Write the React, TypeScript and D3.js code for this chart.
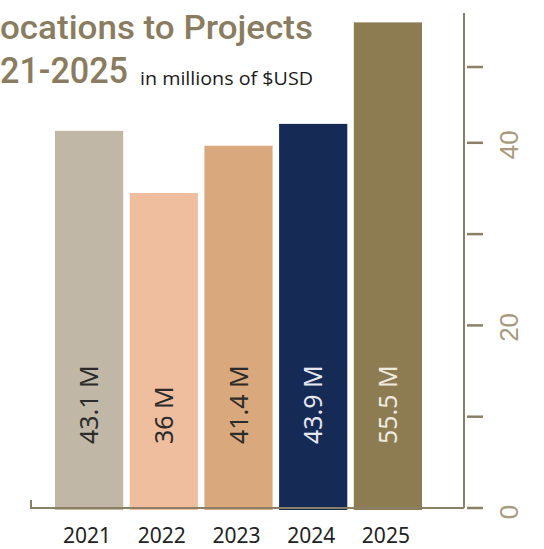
import React from "react";
import * as d3 from "d3";

const years = ["2021", "2022", "2023", "2024", "2025"];
const values = [43.1, 36, 41.4, 43.9, 55.5];
const valueLabels = ["43.1 M", "36 M", "41.4 M", "43.9 M", "55.5 M"];
const barColors = ["#c1b7a7", "#efbe9e", "#d9a97d", "#152a55", "#8d7b52"];
const labelColors = ["#2b2b2b", "#2b2b2b", "#2b2b2b", "#e6e8f0", "#efeae0"];
const axisTickValues = [0, 10, 20, 30, 40, 48.3];
const axisLabelValues = [0, 20, 40];

const W = 544;
const H = 549;
const baseY = 508;
const axisX = 464;
const axisColor = "#8b7f66";
const titleFont = "Roboto, 'Noto Sans', sans-serif";

export default function App() {
  const x = d3.scaleBand<string>().domain(years).range([55, 422]).paddingInner(0.087).paddingOuter(0);
  const yBar = d3.scaleLinear().domain([0, 58]).range([baseY, baseY - 58 * 8.75]);
  const yAxis = d3.scaleLinear().domain([0, 50]).range([baseY, baseY - 50 * 9.13]);

  return (
    <svg width={W} height={H} style={{ position: "absolute", left: 0, top: 0, background: "#fff" }}>
      {/* Title */}
      <text fontFamily={titleFont} fontWeight={500} fontSize={33} fill="#8a7c60" y={39}>
        <tspan x={0} textAnchor="end">All</tspan>
        <tspan x={0} textLength={313} lengthAdjust="spacingAndGlyphs">ocations to Projects</tspan>
      </text>
      <text fontFamily={titleFont} fontWeight={500} fontSize={37} fill="#8a7c60" y={83}>
        <tspan x={0} textAnchor="end">20</tspan>
        <tspan x={0} textLength={128} lengthAdjust="spacingAndGlyphs">21-2025</tspan>
      </text>
      <text x={140} y={85} fontFamily="'Open Sans', 'Noto Sans', sans-serif" fontSize={19} fill="#1a1a1a" textLength={173} lengthAdjust="spacingAndGlyphs">
        in millions of $USD
      </text>

      {/* Bars */}
      {years.map((yr, i) => (
        <rect key={yr} x={x(yr)} y={yBar(values[i])} width={x.bandwidth()} height={baseY + 2 - yBar(values[i])} fill={barColors[i]} />
      ))}

      {/* Value labels */}
      {years.map((yr, i) => {
        const cx = (x(yr) as number) + x.bandwidth() / 2 - 1;
        const cy = 444;
        return (
          <text key={yr} transform={`translate(${cx},${cy}) rotate(-90)`} textAnchor="start" dominantBaseline="central"
            fontFamily="'Noto Sans', sans-serif" fontSize={25} fill={labelColors[i]}>
            {valueLabels[i]}
          </text>
        );
      })}

      {/* Bottom axis line */}
      <path d={`M31,500 V${baseY} H${axisX}`} fill="none" stroke={axisColor} strokeWidth={2} />
      {/* Right axis */}
      <line x1={axisX} x2={axisX} y1={13} y2={baseY} stroke={axisColor} strokeWidth={2} />
      {axisTickValues.map((v) => (
        <line key={v} x1={axisX + 3} x2={axisX + 19} y1={yAxis(v)} y2={yAxis(v)} stroke={axisColor} strokeWidth={2.5} />
      ))}
      {axisLabelValues.map((v) => (
        <text key={v} transform={`translate(${509},${yAxis(v) + (v === 0 ? 4 : 2)}) rotate(-90)`} textAnchor="middle" dominantBaseline="central"
          fontFamily="'Liberation Sans', Arial, sans-serif" fontSize={26} fill="#a89a7c">
          {v}
        </text>
      ))}

      {/* Year labels */}
      {years.map((yr) => (
        <text key={yr} x={(x(yr) as number) + x.bandwidth() / 2 - 2} y={543} textAnchor="middle"
          fontFamily="'Noto Sans', sans-serif" fontSize={21} fill="#222">
          {yr}
        </text>
      ))}
    </svg>
  );
}
